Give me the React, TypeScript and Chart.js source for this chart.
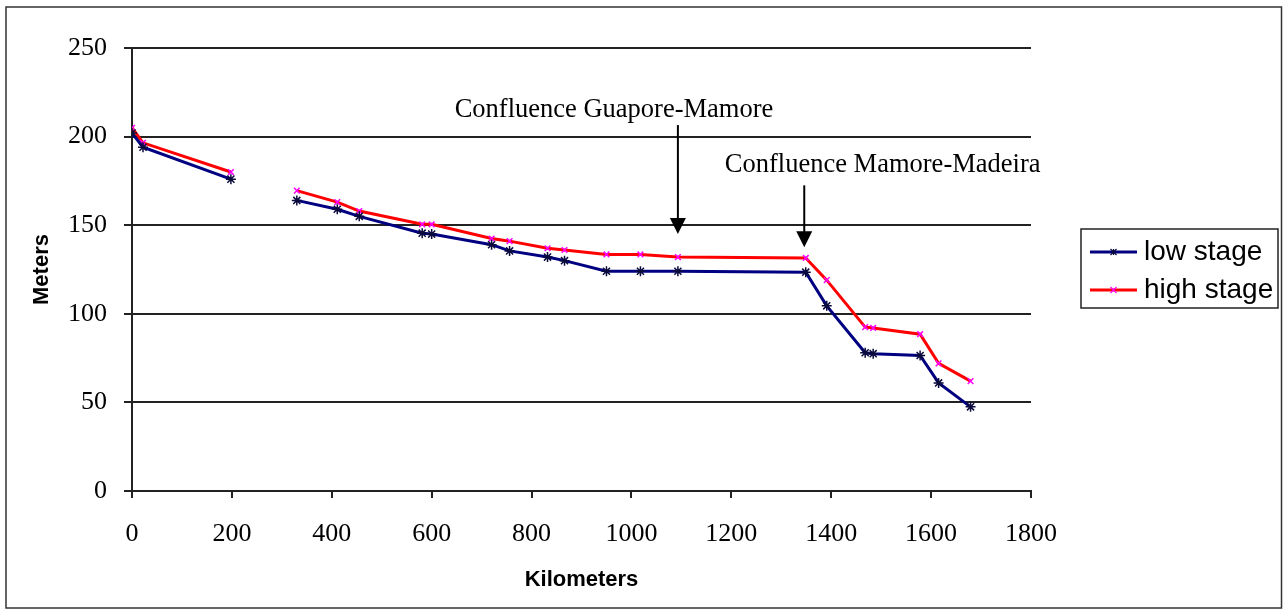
import React, { useEffect, useRef } from "react";
import { Chart, registerables } from "chart.js";

Chart.register(...registerables);

// ---- data ----
const kilometers = [0, 22, 198, 265, 330, 411, 455, 581, 600, 720, 756, 832, 866, 950, 1018, 1093, 1349, 1391, 1468, 1484, 1578, 1615, 1679];
const lowStage: (number | null)[] = [202, 194, 176, null, 164, 159, 155, 145.5, 145, 139, 135.5, 132, 130, 124, 124, 124, 123.5, 104.5, 78, 77.5, 76.5, 61, 47.5];
const highStage: (number | null)[] = [205, 196.5, 180, null, 169.5, 163, 158, 150.5, 150.5, 142.5, 141, 137, 136, 133.5, 133.5, 132, 131.5, 119, 92.5, 92, 88.5, 72, 62];
const seriesLabels = ["low stage", "high stage"];
const xTickValues = [0, 200, 400, 600, 800, 1000, 1200, 1400, 1600, 1800];
const yTickValues = [0, 50, 100, 150, 200, 250];
const xTitle = "Kilometers";
const yTitle = "Meters";

// annotations (in data units)
const annotationTexts = ["Confluence Guapore-Mamore", "Confluence Mamore-Madeira"];
const annotationTextKm = [965, 1503];
const annotationTextMeters = [211, 180];
const annotationArrowKm = [1093, 1346];
const annotationArrowTop = [206.5, 172.5];
const annotationArrowTip = [145, 137.5];

const LOW_COLOR = "#000080";
const LOW_MARK = "#0a0a3c";
const HIGH_COLOR = "#FF0000";
const HIGH_MARK = "#FF00FF";

const decorPlugin = {
  id: "decor",
  beforeDraw(chart: any) {
    const { ctx, width, height } = chart;
    ctx.save();
    ctx.fillStyle = "#ffffff";
    ctx.fillRect(0, 0, width, height);
    ctx.restore();
  },
  afterDraw(chart: any) {
    const { ctx } = chart;
    const xs = chart.scales.x;
    const ys = chart.scales.y;
    ctx.save();
    // outer border
    ctx.strokeStyle = "#333333";
    ctx.lineWidth = 1.5;
    ctx.strokeRect(6, 7, 1275.5, 601);

    // annotations
    ctx.fillStyle = "#000";
    ctx.strokeStyle = "#000";
    ctx.font = "26.5px 'Liberation Serif', 'Times New Roman', serif";
    ctx.textAlign = "center";
    ctx.textBaseline = "alphabetic";
    annotationTexts.forEach((t, i) => {
      ctx.fillText(t, xs.getPixelForValue(annotationTextKm[i]), ys.getPixelForValue(annotationTextMeters[i]));
      const ax = xs.getPixelForValue(annotationArrowKm[i]);
      const top = ys.getPixelForValue(annotationArrowTop[i]);
      const tip = ys.getPixelForValue(annotationArrowTip[i]);
      const head = 16;
      ctx.lineWidth = 2;
      ctx.beginPath();
      ctx.moveTo(ax, top);
      ctx.lineTo(ax, tip - head + 1);
      ctx.stroke();
      ctx.beginPath();
      ctx.moveTo(ax - 8, tip - head);
      ctx.lineTo(ax + 8, tip - head);
      ctx.lineTo(ax, tip);
      ctx.closePath();
      ctx.fill();
    });

    // legend
    const lx = 1081, ly = 229, lw = 197, lh = 79;
    ctx.lineWidth = 1.5;
    ctx.strokeStyle = "#222";
    ctx.strokeRect(lx, ly, lw, lh);
    const rows = [252, 290];
    chart.data.datasets.forEach((ds: any, i: number) => {
      const y = rows[i];
      ctx.strokeStyle = ds.borderColor;
      ctx.lineWidth = 3;
      ctx.beginPath();
      ctx.moveTo(1090, y);
      ctx.lineTo(1137, y);
      ctx.stroke();
      // small marker
      ctx.strokeStyle = ds.pointBorderColor;
      ctx.lineWidth = 1.2;
      const cx = 1113.5, r = 3;
      ctx.beginPath();
      ctx.moveTo(cx - r, y - r); ctx.lineTo(cx + r, y + r);
      ctx.moveTo(cx + r, y - r); ctx.lineTo(cx - r, y + r);
      if (i === 0) { ctx.moveTo(cx, y - r); ctx.lineTo(cx, y + r); }
      ctx.stroke();
      ctx.fillStyle = "#000";
      ctx.font = "28px 'Liberation Sans', Arial, sans-serif";
      ctx.textAlign = "left";
      ctx.textBaseline = "middle";
      ctx.fillText(ds.label, 1144, y);
    });
    ctx.restore();
  },
};

export default function App() {
  const ref = useRef<HTMLCanvasElement | null>(null);
  useEffect(() => {
    document.body.style.margin = "0";
    const canvas = ref.current!;
    const lowData = kilometers.map((k, i) => ({ x: k, y: lowStage[i] }));
    const highData = kilometers.map((k, i) => ({ x: k, y: highStage[i] }));
    const chart = new Chart(canvas, {
      type: "line",
      data: {
        datasets: [
          {
            label: seriesLabels[0],
            data: lowData as any,
            borderColor: LOW_COLOR,
            borderWidth: 3,
            pointStyle: "star",
            pointRadius: 5,
            pointBorderColor: LOW_MARK,
            pointBackgroundColor: LOW_MARK,
            pointBorderWidth: 1.5,
            spanGaps: false,
            tension: 0,
          },
          {
            label: seriesLabels[1],
            data: highData as any,
            borderColor: HIGH_COLOR,
            borderWidth: 3,
            pointStyle: "crossRot",
            pointRadius: 4,
            pointBorderColor: HIGH_MARK,
            pointBackgroundColor: HIGH_MARK,
            pointBorderWidth: 1.5,
            spanGaps: false,
            tension: 0,
          },
        ],
      },
      options: {
        responsive: false,
        maintainAspectRatio: false,
        animation: false,
        events: [],
        layout: { padding: { left: 0, top: 48, right: 253, bottom: 0 } },
        plugins: { legend: { display: false }, tooltip: { enabled: false } },
        scales: {
          x: {
            type: "linear",
            min: 0,
            max: 1800,
            afterBuildTicks: (s: any) => { s.ticks = xTickValues.map((v) => ({ value: v })); },
            afterFit: (s: any) => { s.height = 119; },
            ticks: {
              color: "#000",
              font: { family: "'Liberation Serif', 'Times New Roman', serif", size: 26 },
              padding: 21,
              maxRotation: 0,
              autoSkip: false,
              callback: (v: any) => String(v),
            },
            grid: { display: true, drawOnChartArea: false, drawTicks: true, tickLength: 7, color: "#222", lineWidth: 2 },
            border: { display: true, color: "#222", width: 2 },
            title: {
              display: true,
              text: xTitle,
              color: "#000",
              font: { family: "'Liberation Sans', Arial, sans-serif", size: 22, weight: "bold" },
              padding: { top: 0, bottom: 17 },
            },
          },
          y: {
            type: "linear",
            min: 0,
            max: 250,
            afterBuildTicks: (s: any) => { s.ticks = yTickValues.map((v) => ({ value: v })); },
            afterFit: (s: any) => { s.width = 132; },
            ticks: {
              color: "#000",
              font: { family: "'Liberation Serif', 'Times New Roman', serif", size: 26 },
              padding: 17,
              callback: (v: any) => String(v),
            },
            grid: { display: true, drawOnChartArea: true, drawTicks: true, tickLength: 8, color: "#222", lineWidth: 2 },
            border: { display: true, color: "#222", width: 2 },
            title: {
              display: true,
              text: yTitle,
              color: "#000",
              font: { family: "'Liberation Sans', Arial, sans-serif", size: 22, weight: "bold" },
              padding: { top: 29, bottom: 0 },
            },
          },
        },
      },
      plugins: [decorPlugin],
    });
    return () => chart.destroy();
  }, []);
  return (
    <div style={{ width: 1284, height: 610 }}>
      <canvas ref={ref} width={1284} height={610} style={{ display: "block" }} />
    </div>
  );
}
